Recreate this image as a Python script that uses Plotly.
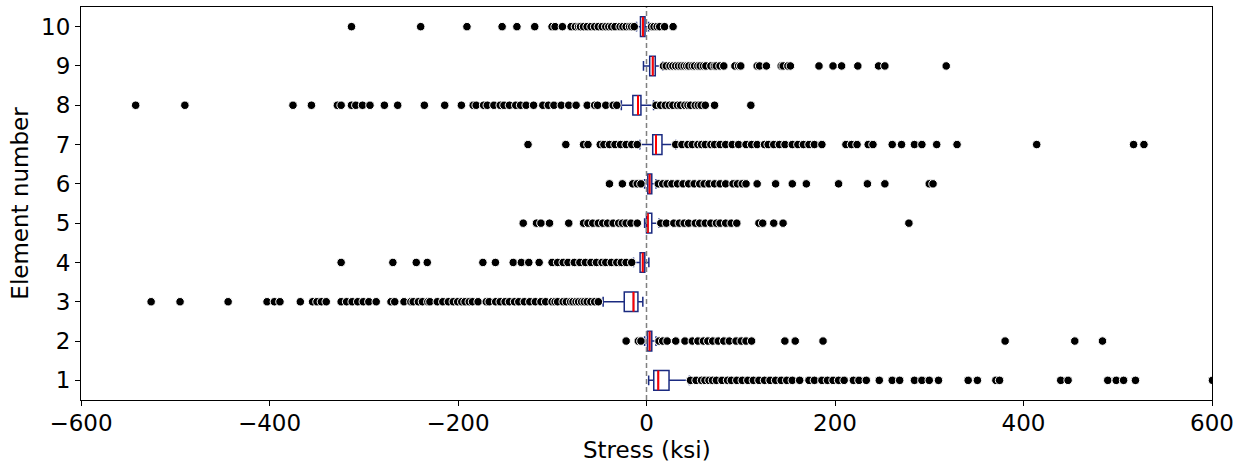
import plotly.graph_objects as go

elements = [1, 2, 3, 4, 5, 6, 7, 8, 9, 10]

# box statistics per element (ksi)
q1 = [7.7, 1.0, -23.6, -6.8, 0.0, 1.3, 6.6, -14.5, 3.4, -6.4]
median = [12.5, 3.3, -13.8, -4.0, 1.4, 3.3, 10.1, -9.0, 6.6, -3.8]
q3 = [23.9, 5.6, -9.1, -1.8, 5.6, 5.6, 16.4, -5.9, 9.3, -1.6]
whisker_low = [2.3, -2.0, -46.0, -13.8, -2.0, -2.0, -7.1, -26.7, -3.2, -10.6]
whisker_high = [45.5, 10.1, -3.9, 2.5, 13.3, 10.1, 31.0, 7.5, 17.2, 2.3]

# outliers per element (ksi)
fliers = {
    1: [46.7, 52.6, 58.4, 62.0, 66.3, 70.0, 74.2, 80.1, 86.0, 90.0, 95.8, 101.6, 107.5, 113.4,
        119.3, 125.2, 131.1, 137.0, 142.9, 148.8, 154.7, 162.5, 172.4, 178.2, 186.1, 192.0,
        197.9, 203.8, 209.7, 219.5, 225.4, 233.2, 247.0, 260.7, 268.6, 284.3, 292.2, 300.0,
        309.8, 341.3, 351.1, 370.7, 374.6, 439.5, 447.3, 489.4, 498.4, 506.2, 518.8, 600.5],
    2: [-21.6, -8.7, -5.9, 13.3, 17.2, 21.9, 31.0, 40.8, 48.6, 54.5, 60.4, 65.1, 70.2, 76.1,
        82.0, 87.9, 95.0, 100.5, 105.6, 111.5, 146.8, 157.8, 187.3, 380.5, 454.4, 483.8],
    3: [-525.6, -494.9, -443.9, -402.6, -394.8, -388.9, -367.3, -354.3, -349.6, -344.9,
        -339.8, -324.0, -318.2, -312.3, -306.4, -300.5, -294.6, -286.8, -271.1, -267.1,
        -257.3, -250.0, -247.5, -242.0, -237.7, -232.0, -229.8, -222.0, -216.1, -210.2,
        -205.0, -200.3, -196.0, -192.5, -188.0, -184.6, -178.7, -170.0, -166.9, -160.0,
        -155.2, -150.0, -145.4, -140.0, -135.5, -129.6, -123.8, -117.9, -112.0, -107.0,
        -100.2, -97.0, -94.3, -88.4, -85.0, -80.5, -78.0, -74.7, -72.0, -68.8, -66.0,
        -62.9, -59.0, -55.0, -51.1],
    4: [-324.0, -269.1, -244.3, -232.6, -173.6, -160.3, -141.4, -132.8, -124.9, -113.9,
        -100.2, -94.3, -88.4, -83.3, -76.6, -70.7, -64.8, -58.9, -53.1, -47.2, -43.2,
        -37.3, -31.5, -26.7, -21.6, -15.7],
    5: [-130.8, -116.7, -112.0, -102.9, -82.5, -66.8, -62.1, -57.0, -51.1, -46.4, -41.3,
        -35.4, -29.5, -25.6, -21.6, -16.5, -9.8, 15.2, 21.1, 29.0, 34.9, 40.0, 44.7, 51.8,
        56.5, 62.4, 68.3, 74.2, 78.1, 84.0, 89.9, 95.8, 119.3, 123.3, 135.0, 144.9, 278.4],
    6: [-39.3, -25.6, -14.6, -9.8, -5.9, 12.5, 17.2, 21.9, 27.0, 32.9, 38.8, 44.7, 50.6,
        56.5, 61.2, 66.3, 72.2, 78.1, 84.0, 91.8, 96.5, 101.6, 105.6, 117.4, 137.0, 154.7,
        169.6, 203.8, 234.4, 252.9, 300.0, 304.0],
    7: [-125.7, -85.6, -66.8, -62.1, -49.1, -45.2, -39.3, -33.4, -27.5, -21.6, -15.7, -9.8,
        31.0, 37.6, 43.9, 48.6, 54.5, 58.4, 62.4, 68.3, 72.2, 78.1, 84.0, 91.0, 97.7, 105.6,
        111.5, 117.4, 125.2, 129.1, 135.0, 141.0, 147.0, 154.7, 160.6, 166.5, 172.4, 178.2,
        186.1, 211.6, 217.5, 223.4, 235.2, 240.3, 260.7, 270.6, 284.3, 292.2, 307.9, 329.5,
        414.0, 516.8, 527.8],
    8: [-542.0, -489.8, -375.1, -355.5, -328.0, -324.0, -313.0, -308.4, -301.3, -293.4,
        -278.1, -264.0, -235.7, -214.1, -196.4, -183.9, -180.7, -172.8, -168.9, -161.9,
        -155.2, -151.2, -145.4, -138.7, -133.6, -127.7, -119.8, -110.0, -104.1, -98.2,
        -90.4, -82.5, -74.7, -62.9, -55.0, -51.9, -43.2, -35.4, -31.5, 10.1, 15.0, 20.0,
        24.3, 28.0, 32.9, 36.1, 40.8, 44.0, 46.7, 51.8, 55.0, 58.0, 62.4, 72.2, 110.7],
    9: [18.0, 21.0, 25.0, 28.0, 31.0, 34.0, 37.0, 40.0, 42.7, 45.0, 48.6, 51.0, 54.5, 57.0,
        60.4, 63.0, 68.3, 72.0, 74.0, 78.0, 82.0, 93.8, 97.7, 100.0, 117.4, 120.0, 127.2,
        142.9, 145.0, 150.0, 152.7, 183.0, 197.9, 207.0, 224.2, 246.2, 252.9, 318.0],
    10: [-313.0, -239.6, -190.5, -153.2, -137.5, -118.6, -100.2, -97.0, -89.2, -80.0,
         -75.4, -72.0, -70.0, -66.8, -63.0, -58.9, -55.0, -51.1, -47.0, -43.2, -40.0,
         -37.0, -33.4, -28.0, -25.0, -21.6, -18.0, -15.7, -13.0, 5.4, 8.0, 11.3, 14.0,
         19.2, 28.2],
}

x_ticks = [-600, -400, -200, 0, 200, 400, 600]
x_tick_labels = ["\u2212600", "\u2212400", "\u2212200", "0", "200", "400", "600"]
y_ticks = elements
x_title = "Stress (ksi)"
y_title = "Element number"
reference_stress = 0

BOX_COLOR = "#1a2a80"
MEDIAN_COLOR = "#ff0000"
FONT = "DejaVu Sans"
FONT_SIZE = 23
BOX_WIDTH = 0.5

fig = go.Figure()

fig.add_trace(go.Box(
    y=elements, q1=q1, median=median, q3=q3,
    lowerfence=whisker_low, upperfence=whisker_high,
    orientation="h", boxpoints=False, width=BOX_WIDTH, whiskerwidth=0.5,
    line=dict(color=BOX_COLOR, width=1.5), fillcolor="rgba(0,0,0,0)",
    showlegend=False, hoverinfo="skip",
))

mx, my = [], []
for e, m in zip(elements, median):
    mx += [m, m, None]
    my += [e - BOX_WIDTH / 2, e + BOX_WIDTH / 2, None]
fig.add_trace(go.Scatter(
    x=mx, y=my, mode="lines", line=dict(color=MEDIAN_COLOR, width=2),
    showlegend=False, hoverinfo="skip",
))

fx, fy = [], []
for e in elements:
    fx += fliers[e]
    fy += [e] * len(fliers[e])
fig.add_trace(go.Scatter(
    x=fx, y=fy, mode="markers",
    marker=dict(color="black", size=8.5, line=dict(color="white", width=1)),
    showlegend=False,
))

fig.add_shape(type="line", xref="x", yref="paper", x0=reference_stress, x1=reference_stress,
              y0=0, y1=1, line=dict(color="#808080", width=1.5, dash="5px,3px"), layer="above")

axis_common = dict(
    showgrid=False, zeroline=False, showline=True, linecolor="black", linewidth=1,
    mirror=True, ticks="outside", ticklen=5, tickwidth=1, tickcolor="black",
    tickfont=dict(family=FONT, size=FONT_SIZE, color="black"),
)
fig.update_xaxes(range=[-600, 600], tickvals=x_ticks, ticktext=x_tick_labels,
                 ticklabelstandoff=-3, **axis_common)
fig.update_yaxes(range=[0.5, 10.5], tickvals=y_ticks,
                 title=dict(text=y_title, font=dict(family=FONT, size=FONT_SIZE, color="black"),
                            standoff=6),
                 **axis_common)

fig.add_annotation(text=x_title, xref="paper", yref="paper", x=0.5, y=0,
                   xanchor="center", yanchor="top", yshift=-35, showarrow=False,
                   font=dict(family=FONT, size=FONT_SIZE, color="black"))

fig.update_layout(
    width=1247, height=464,
    margin=dict(l=81, r=35, t=7, b=64),
    plot_bgcolor="white", paper_bgcolor="white",
    font=dict(family=FONT, size=FONT_SIZE, color="black"),
)

fig.write_html("out.html", config={"displayModeBar": False},
               post_script="document.body.style.margin='0';")
